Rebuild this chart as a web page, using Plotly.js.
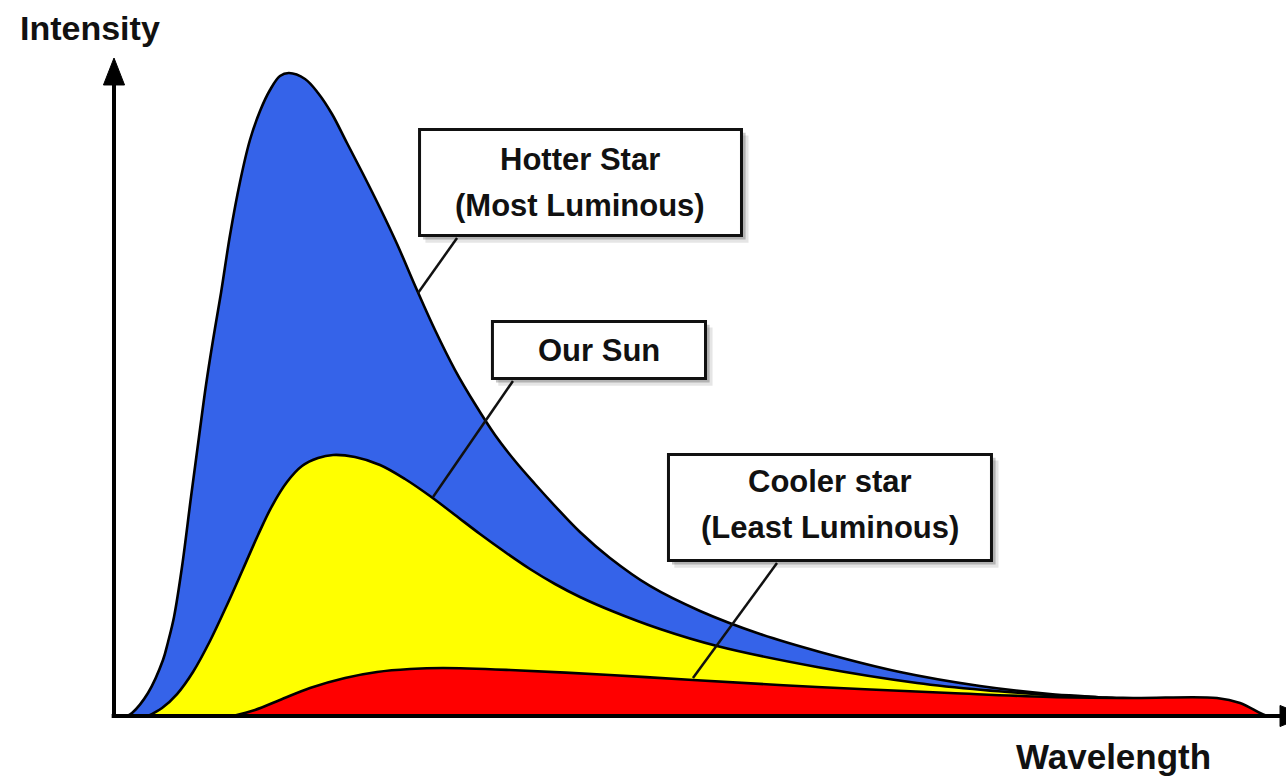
<!DOCTYPE html>
<html>
<head>
<meta charset="utf-8">
<script src="https://cdn.plot.ly/plotly-3.0.1.min.js"></script>
<style>html,body{margin:0;padding:0;background:#fff;}#chart{width:1286px;height:776px;}</style>
</head>
<body>
<div id="chart"></div>
<script>
// ---- Data (arbitrary units: wavelength 0-100, intensity 0-100) ----
var hotX = [1.11, 1.54, 2.90, 4.18, 4.61, 5.12, 5.80, 6.57, 7.25, 7.85, 8.45, 9.13, 9.90, 10.75, 11.60, 12.46, 13.31, 14.16, 14.93,
            16.30, 17.41, 18.60, 19.88, 21.25, 22.70, 24.15, 25.85, 27.39, 29.10, 30.80, 32.51, 34.22, 35.92, 37.63, 39.76,
            42.32, 45.73, 50.00, 55.12, 60.24, 67.06, 73.89, 79.86, 84.0, 86.0, 87.0, 87.5];
var hotY = [0, 0.46, 3.50, 8.51, 11.25, 15.05, 22.64, 33.28, 42.40, 50.30, 57.14, 64.29, 73.10, 81.16, 87.54, 91.95, 95.14, 97.26, 97.72,
            96.81, 94.68, 91.49, 87.08, 82.37, 77.20, 71.73, 64.74, 58.66, 52.58, 47.42, 42.71, 38.75, 35.26, 31.91, 27.96,
            24.01, 19.76, 15.96, 12.46, 9.73, 6.69, 4.56, 3.34, 2.85, 2.45, 0.5, 0];

var sunX = [2.90, 4.10, 5.38, 6.74, 8.19, 9.64, 11.01, 12.29, 13.48, 14.76, 16.04, 17.41, 18.69, 20.56, 22.70, 24.83, 26.96, 29.10,
            31.23, 33.36, 35.49, 37.63, 39.76, 42.49, 46.59, 51.45, 59.98, 68.52, 74.15, 79.86, 83.5, 85.5, 86.5, 87.0];
var sunY = [0, 1.22, 3.34, 6.69, 11.40, 16.87, 22.34, 27.51, 31.91, 35.56, 37.99, 39.21, 39.67, 39.36, 38.15, 36.02, 33.43, 30.55,
            27.66, 24.92, 22.34, 20.06, 18.09, 15.96, 13.22, 10.64, 7.45, 5.02, 3.95, 3.19, 2.8, 2.4, 0.5, 0];

var coolX = [10.15, 12.03, 14.16, 16.72, 19.71, 22.44, 25.26, 28.07, 33.79, 42.32, 49.40, 59.98, 71.33, 79.86, 86.95, 94.11, 96.08, 97.78, 98.38];
var coolY = [0, 0.91, 2.43, 4.26, 5.78, 6.69, 7.14, 7.29, 6.99, 6.23, 5.47, 4.41, 3.50, 2.89, 2.74, 2.74, 1.98, 0.46, 0];

var seriesColors = ['#3563E9', '#FFFF00', '#FF0000'];
var boxLabels = [['Hotter Star', '(Most Luminous)'], ['Our Sun'], ['Cooler star', '(Least Luminous)']];
var axisLabels = ['Intensity', 'Wavelength'];

// ---- Traces ----
function curve(x, y, color) {
  return {
    x: x, y: y, type: 'scatter', mode: 'lines',
    line: {color: '#000', width: 2.6, shape: 'spline', smoothing: 1},
    fill: 'tozeroy', fillcolor: color, hoverinfo: 'skip'
  };
}
var traces = [
  curve(hotX, hotY, seriesColors[0]),
  curve(sunX, sunY, seriesColors[1]),
  curve(coolX, coolY, seriesColors[2])
];

// ---- Callout boxes (layout) ----
var boxes = [
  {x0: 26.07, x1: 53.54, y0: 73.02, y1: 89.13, cx: 39.80, lines: [84.50, 77.66],
   lead: [29.27, 72.64, 25.94, 64.29]},
  {x0: 32.29, x1: 50.47, y0: 51.29, y1: 59.95, cx: 41.38, lines: [55.62],
   lead: [34.04, 50.91, 27.22, 33.28]},
  {x0: 47.31, x1: 74.87, y0: 23.63, y1: 39.74, cx: 61.09, lines: [35.71, 28.72],
   lead: [56.57, 23.25, 49.40, 5.78]}
];

var shapes = [];
var annotations = [];
var font = {family: 'Liberation Sans, Arial, Helvetica, sans-serif', color: '#111', weight: 'bold'};

// axes
shapes.push({type: 'line', xref: 'x', yref: 'y', x0: 0, y0: -0.3, x1: 0, y1: 96.5, layer: 'above', line: {color: '#000', width: 4}});
shapes.push({type: 'line', xref: 'x', yref: 'y', x0: -0.2, y0: 0, x1: 99.6, y1: 0, layer: 'above', line: {color: '#000', width: 4}});
shapes.push({type: 'path', xref: 'x', yref: 'y', layer: 'above', path: 'M -0.9,95.9 L 0,100 L 0.9,95.9 Z', fillcolor: '#000', line: {color: '#000', width: 1}});
shapes.push({type: 'path', xref: 'x', yref: 'y', layer: 'above', path: 'M 99.49,1.6 L 101.7,0 L 99.49,-1.6 Z', fillcolor: '#000', line: {color: '#000', width: 1}});

boxes.forEach(function (b, i) {
  // leader line
  shapes.push({type: 'line', xref: 'x', yref: 'y', layer: 'above', x0: b.lead[0], y0: b.lead[1], x1: b.lead[2], y1: b.lead[3], line: {color: '#111', width: 2.5}});
  // shadow
  shapes.push({type: 'rect', xref: 'x', yref: 'y', layer: 'above', x0: b.x0 + 0.5, x1: b.x1 + 0.6, y0: b.y0 - 1.1, y1: b.y1 - 0.9, fillcolor: 'rgba(0,0,0,0.10)', line: {width: 0}});
  shapes.push({type: 'rect', xref: 'x', yref: 'y', layer: 'above', x0: b.x0 + 0.3, x1: b.x1 + 0.35, y0: b.y0 - 0.6, y1: b.y1 - 0.5, fillcolor: 'rgba(0,0,0,0.22)', line: {width: 0}});
  // box
  shapes.push({type: 'rect', xref: 'x', yref: 'y', layer: 'above', x0: b.x0, x1: b.x1, y0: b.y0, y1: b.y1, fillcolor: '#fff', line: {color: '#111', width: 3}});
  boxLabels[i].forEach(function (t, j) {
    annotations.push({xref: 'x', yref: 'y', x: b.cx, y: b.lines[j], text: t, showarrow: false,
      xanchor: 'center', yanchor: 'middle', font: Object.assign({size: 31}, font)});
  });
});

annotations.push({xref: 'x', yref: 'y', x: -2.05, y: 104.56, text: axisLabels[0], showarrow: false, xanchor: 'center', yanchor: 'middle', font: Object.assign({size: 34}, font)});
annotations.push({xref: 'x', yref: 'y', x: 85.24, y: -6.23, text: axisLabels[1], showarrow: false, xanchor: 'center', yanchor: 'middle', font: Object.assign({size: 35}, font)});

var layout = {
  width: 1286, height: 776,
  margin: {l: 0, r: 0, t: 0, b: 0, pad: 0},
  paper_bgcolor: '#fff', plot_bgcolor: '#fff',
  showlegend: false, hovermode: false,
  xaxis: {range: [-9.727, 100], visible: false, fixedrange: true},
  yaxis: {range: [-9.119, 108.815], visible: false, fixedrange: true},
  shapes: shapes, annotations: annotations
};

Plotly.newPlot('chart', traces, layout, {staticPlot: true, displayModeBar: false});
</script>
</body>
</html>
